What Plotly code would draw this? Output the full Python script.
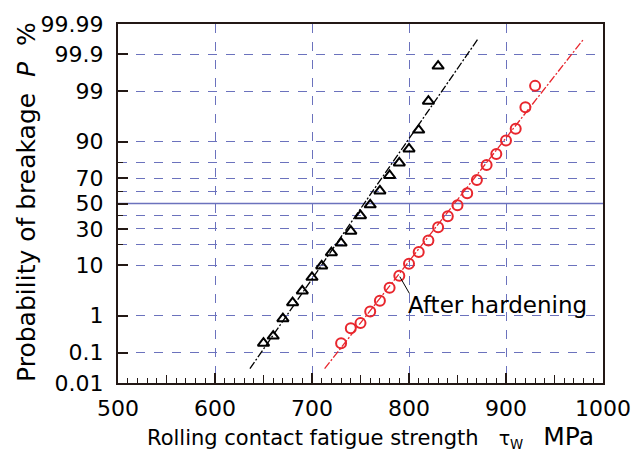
import plotly.graph_objects as go
from statistics import NormalDist

# ---------------- data ----------------
before_x = [650, 660, 670, 680, 690, 700, 710, 720, 730, 740, 750, 760, 770, 780, 790, 800, 810, 820, 830]
before_p = [0.19, 0.30, 0.85, 2.0, 3.5, 6.3, 9.8, 15.4, 20.6, 28.3, 40.0, 48.9, 60.3, 71.9, 80.0, 87.1, 93.6, 98.3, 99.78]

after_x = [730, 740, 750, 760, 770, 780, 790, 800, 810, 820, 830, 840, 850, 860, 870, 880, 890, 900, 910, 920, 930]
after_p = [0.19, 0.49, 0.66, 1.26, 2.2, 4.05, 6.7, 10.6, 15.7, 22.2, 31.1, 39.5, 48.5, 58.4, 68.7, 78.7, 84.8, 90.45, 93.9, 97.7, 99.26]

fit_before_x = [636, 871]
fit_before_p = [0.031, 99.967]
fit_after_x = [713, 980]
fit_after_p = [0.031, 99.967]

ytick_labels = ["0.01", "0.1", "1", "10", "30", "50", "70", "90", "99", "99.9", "99.99"]
ytick_values = [0.01, 0.1, 1, 10, 30, 50, 70, 90, 99, 99.9, 99.99]
yminor_values = [20, 40, 60, 80]
xtick_values = [500, 600, 700, 800, 900, 1000]

nd = NormalDist()
def z(p):
    return nd.inv_cdf(p / 100.0)

FONT = "DejaVu Sans, Liberation Sans, Arial, sans-serif"
GRID = "#6b72bd"
FRAME = "#231815"
RED = "#e8262d"
NB = "\u00a0"

fig = go.Figure()

fig.add_trace(go.Scatter(x=fit_before_x, y=[z(p) for p in fit_before_p], mode="lines",
                         line=dict(color="black", width=1.3, dash="8px,2px,2px,2px"),
                         showlegend=False, hoverinfo="skip"))
fig.add_trace(go.Scatter(x=fit_after_x, y=[z(p) for p in fit_after_p], mode="lines",
                         line=dict(color=RED, width=1.3, dash="8px,2px,2px,2px"),
                         showlegend=False, hoverinfo="skip"))
fig.add_trace(go.Scatter(x=before_x, y=[z(p) for p in before_p], mode="markers",
                         marker=dict(symbol="triangle-up-open", size=10, color="black",
                                     line=dict(width=2, color="black")),
                         showlegend=False))
fig.add_trace(go.Scatter(x=after_x, y=[z(p) for p in after_p], mode="markers",
                         marker=dict(symbol="circle-open", size=10, color=RED,
                                     line=dict(width=2, color=RED)),
                         showlegend=False))

# mid ticks (every 50) on a helper axis
fig.add_trace(go.Scatter(x=[500, 1000], y=[0, 0], xaxis="x2", mode="lines",
                         line=dict(width=0), showlegend=False, hoverinfo="skip", opacity=0))

ymin, ymax = z(0.01), z(99.99)

# 50% solid line
fig.add_shape(type="line", xref="x", yref="y", x0=500, x1=1000, y0=z(50), y1=z(50),
              line=dict(color=GRID, width=1.3), layer="below")

# leader line for annotation
fig.add_shape(type="line", xref="x", yref="y", x0=790.5, y0=z(6.5), x1=800.5, y1=z(3.1),
              line=dict(color="black", width=1))
fig.add_annotation(x=797, y=z(1.75), xref="x", yref="y", text="After hardening",
                   showarrow=False, xanchor="left", yanchor="middle",
                   font=dict(family=FONT, size=23, color="black"))

# axis titles
fig.add_annotation(x=0.055, y=-0.103, xref="paper", yref="paper",
                   text="Rolling contact fatigue strength" + NB * 3 +
                        "<span style='font-size:19px'>τ<sub>W</sub></span>" + NB * 3 +
                        "<span style='font-size:25px'>MPa</span>",
                   showarrow=False, xanchor="left", yanchor="top",
                   font=dict(family=FONT, size=21, color="black"))
fig.add_annotation(x=-0.19, y=0.504, xref="paper", yref="paper",
                   text="Probability of breakage" + NB * 2 + "<i>P</i>" + NB * 2 + "%",
                   showarrow=False, textangle=-90, xanchor="center", yanchor="middle",
                   font=dict(family=FONT, size=25, color="black"))

fig.update_layout(
    width=643, height=453,
    margin=dict(l=118, r=40, t=20, b=70),
    paper_bgcolor="white", plot_bgcolor="white",
    font=dict(family=FONT, size=22, color="black"),
    xaxis=dict(range=[500, 1000], tickvals=xtick_values, ticks="inside", ticklen=10,
               tickwidth=1.5, tickcolor=FRAME,
               showgrid=True, gridcolor=GRID, griddash="dash", gridwidth=1.2,
               showline=True, linecolor=FRAME, linewidth=2, mirror=True,
               zeroline=False, ticklabelstandoff=5,
               minor=dict(dtick=10, tick0=500, ticks="inside", ticklen=5, tickwidth=1.2,
                          tickcolor=FRAME, showgrid=False),
               tickfont=dict(size=22)),
    xaxis2=dict(range=[500, 1000], overlaying="x", side="bottom", anchor="y",
                dtick=50, tick0=500, ticks="inside", ticklen=8, tickwidth=1.2,
                tickcolor=FRAME, showticklabels=False, showgrid=False, zeroline=False,
                showline=False),
    yaxis=dict(range=[ymin, ymax], tickvals=[z(v) for v in ytick_values], ticktext=ytick_labels,
               ticks="inside", ticklen=10, tickwidth=1.5, tickcolor=FRAME,
               showgrid=True, gridcolor=GRID, griddash="dash", gridwidth=1.2,
               showline=True, linecolor=FRAME, linewidth=2, mirror=True,
               zeroline=False, ticklabelstandoff=8,
               minor=dict(tickvals=[z(v) for v in yminor_values], ticks="inside", ticklen=5,
                          tickwidth=1.2, tickcolor=FRAME, showgrid=True, gridcolor=GRID,
                          griddash="dash", gridwidth=1.2),
               tickfont=dict(size=22)),
)

fig.write_html("out.html")
